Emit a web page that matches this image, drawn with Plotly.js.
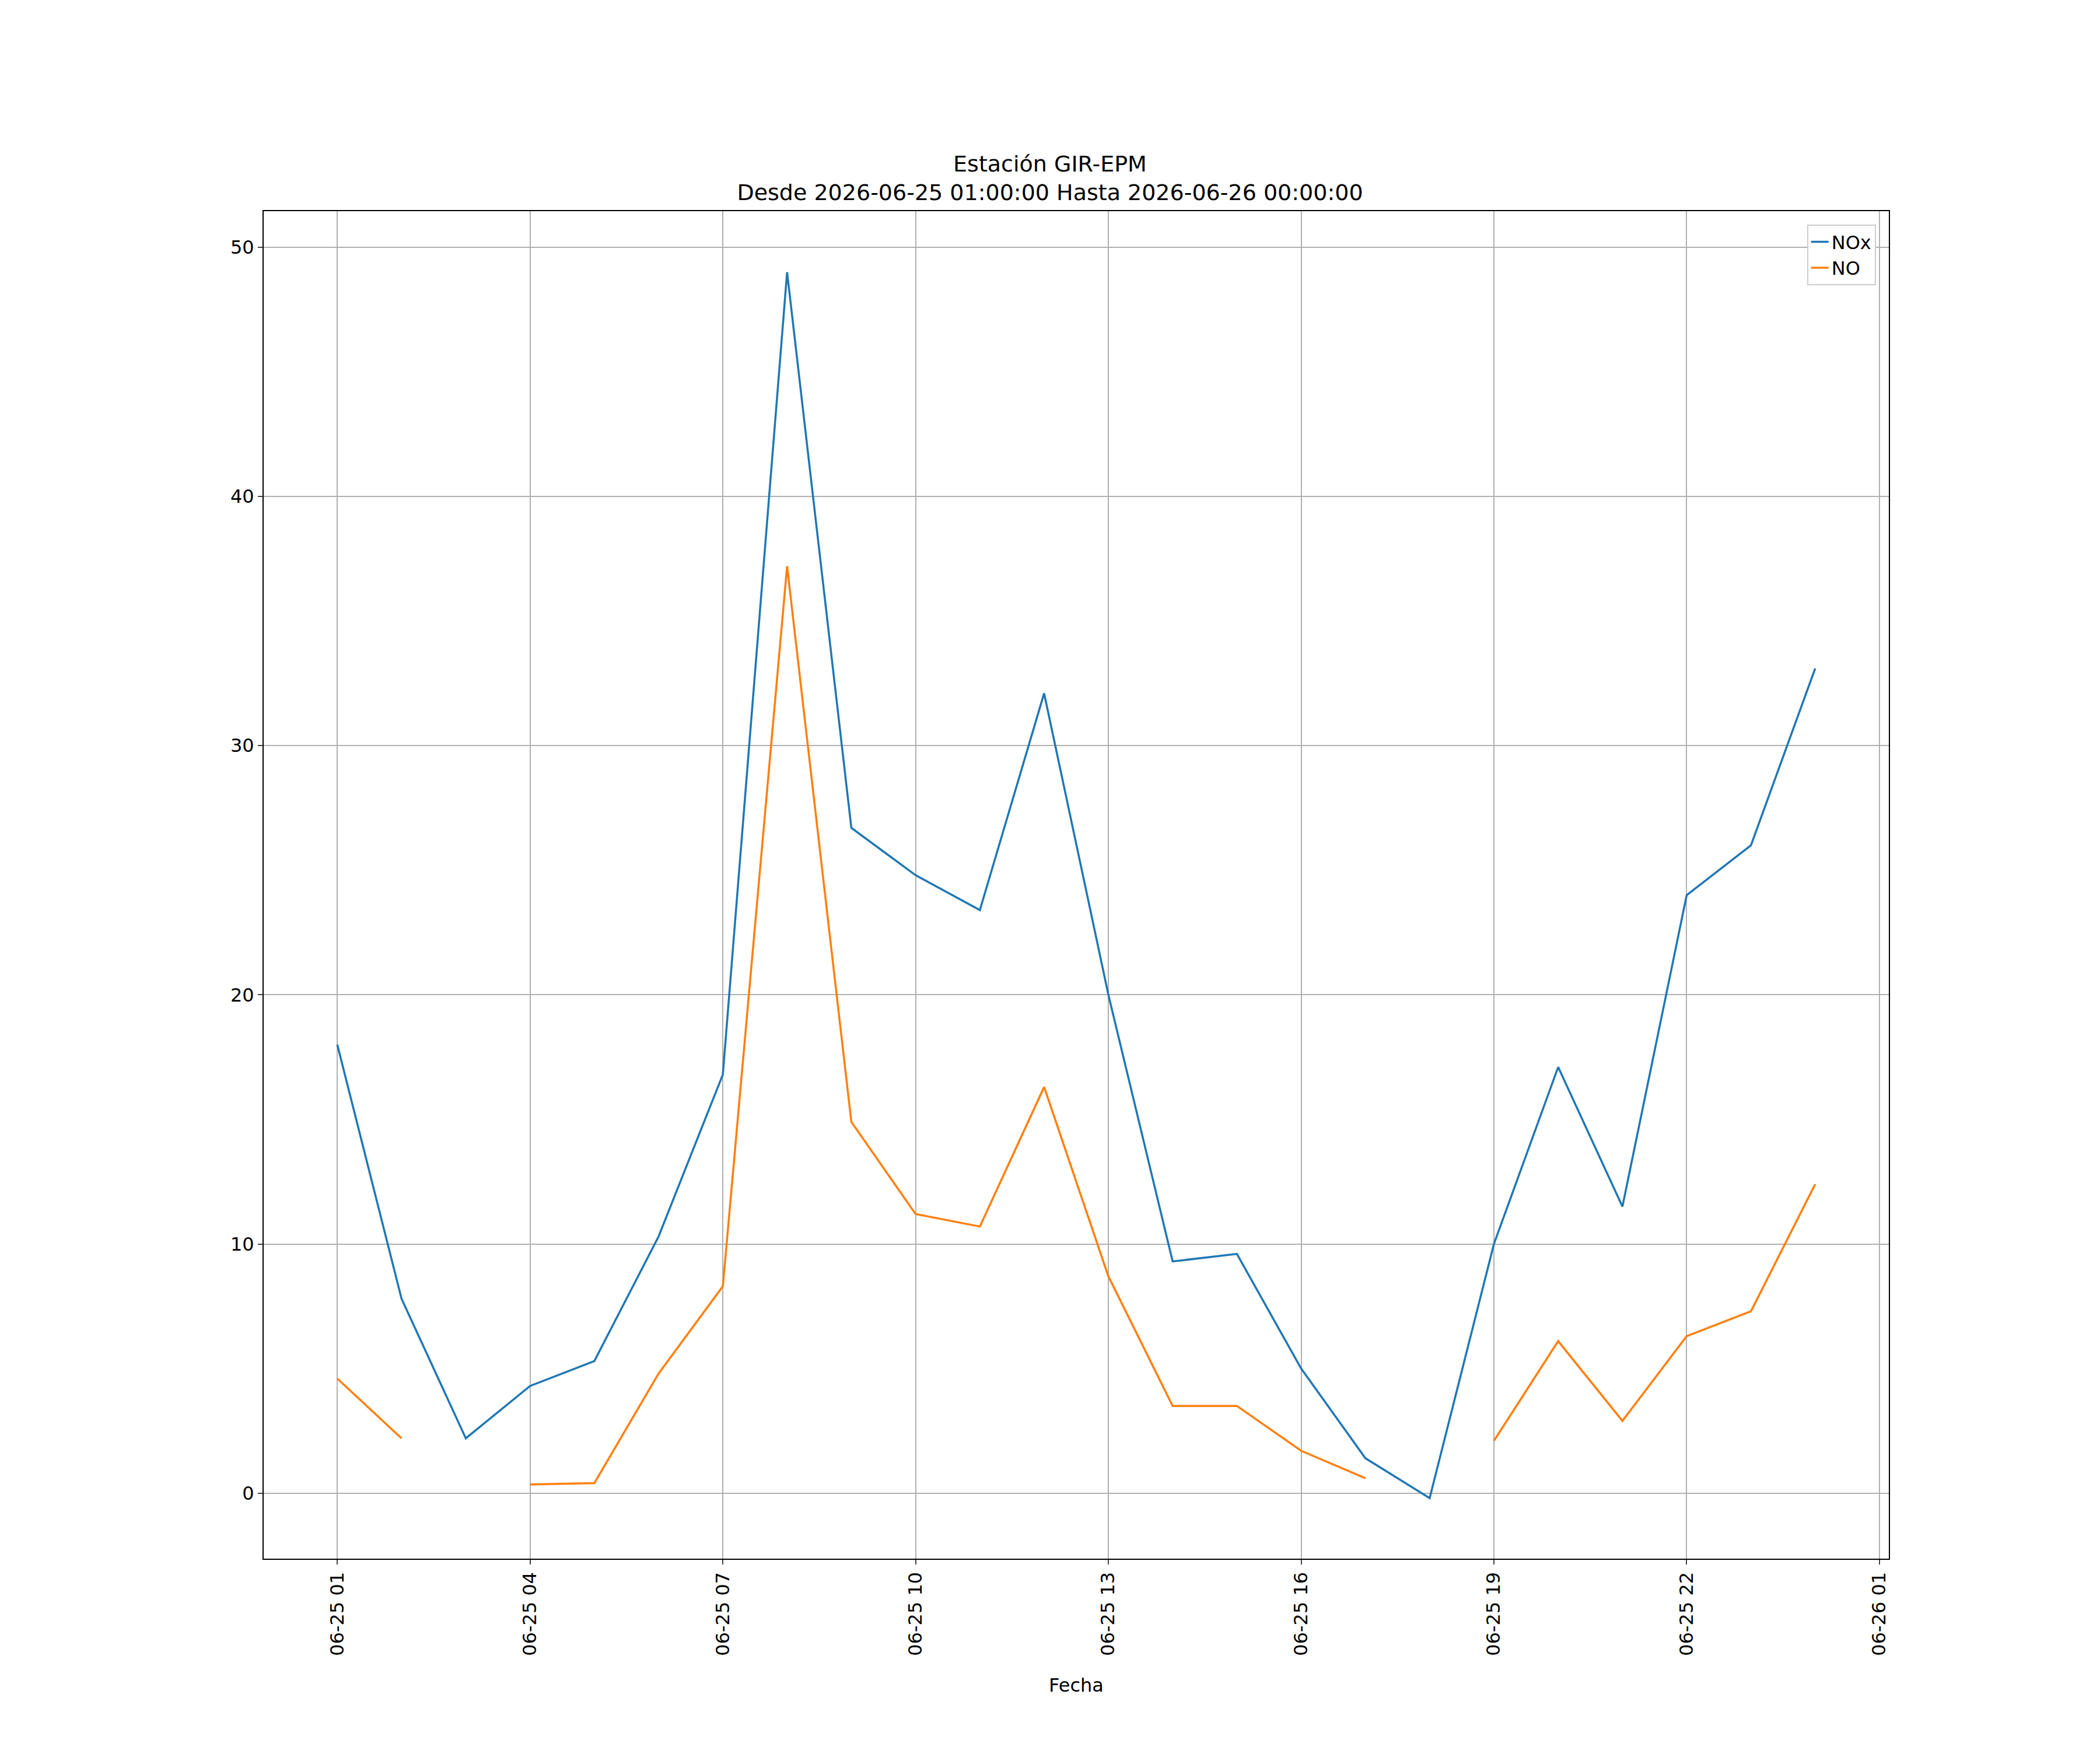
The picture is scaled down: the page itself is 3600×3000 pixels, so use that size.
<html><head><script src="https://cdn.plot.ly/plotly-3.0.1.min.js"></script></head><body style="margin:0">
<div id="c" style="width:3600px;height:3000px"></div>
<script>
const times = ["2026-06-25 01:00","2026-06-25 02:00","2026-06-25 03:00","2026-06-25 04:00","2026-06-25 05:00","2026-06-25 06:00","2026-06-25 07:00","2026-06-25 08:00","2026-06-25 09:00","2026-06-25 10:00","2026-06-25 11:00","2026-06-25 12:00","2026-06-25 13:00","2026-06-25 14:00","2026-06-25 15:00","2026-06-25 16:00","2026-06-25 17:00","2026-06-25 18:00","2026-06-25 19:00","2026-06-25 20:00","2026-06-25 21:00","2026-06-25 22:00","2026-06-25 23:00","2026-06-26 00:00"];
const nox = [18.0,7.8,2.2,4.3,5.3,10.3,16.8,49.0,26.7,24.8,23.4,32.1,20.0,9.3,9.6,5.0,1.4,-0.2,10.0,17.1,11.5,24.0,26.0,33.1];
const no = [4.6,2.2,null,0.35,0.4,4.8,8.3,37.2,14.9,11.2,10.7,16.3,8.7,3.5,3.5,1.7,0.6,null,2.1,6.1,2.9,6.3,7.3,12.4];
const F = {family:"DejaVu Sans", color:"#000"};
Plotly.newPlot("c", [
 {x:times, y:nox, name:"NOx", mode:"lines", line:{color:"#1f77b4", width:3.5}},
 {x:times, y:no, name:"NO", mode:"lines", line:{color:"#ff7f0e", width:3.5}, connectgaps:false}
], {
 width:3600, height:3000, paper_bgcolor:"#fff", plot_bgcolor:"#fff",
 margin:{l:452, r:362, t:362, b:328},
 font:Object.assign({size:32}, F),
 title:{text:"Estación GIR-EPM<br>Desde 2026-06-25 01:00:00 Hasta 2026-06-26 00:00:00", x:0.5, xanchor:"center", yref:"container", y:0.902, yanchor:"middle", font:Object.assign({size:38}, F)},
 xaxis:{type:"date", range:["2026-06-24 23:51:15","2026-06-26 01:08:45"], tickformat:"%m-%d %H", tickangle:-90, dtick:3*3600000, tick0:"2026-06-25 01:00",
   showgrid:true, gridcolor:"#b0b0b0", gridwidth:2, showline:true, linecolor:"#000", linewidth:2, mirror:true, ticks:"outside", ticklen:8, tickwidth:2,
   zeroline:false, title:{text:"Fecha", font:Object.assign({size:32}, F), standoff:40}},
 yaxis:{range:[-2.63,51.45], dtick:10, showgrid:true, gridcolor:"#b0b0b0", gridwidth:2, showline:true, linecolor:"#000", linewidth:2, mirror:true,
   ticks:"outside", ticklen:8, tickwidth:2, zeroline:false},
 legend:{x:0.992, y:0.99, xanchor:"right", yanchor:"top", bordercolor:"#ccc", borderwidth:2, bgcolor:"#fff", font:Object.assign({size:32}, F)},
 showlegend:true
}, {displayModeBar:false});
</script></body></html>
